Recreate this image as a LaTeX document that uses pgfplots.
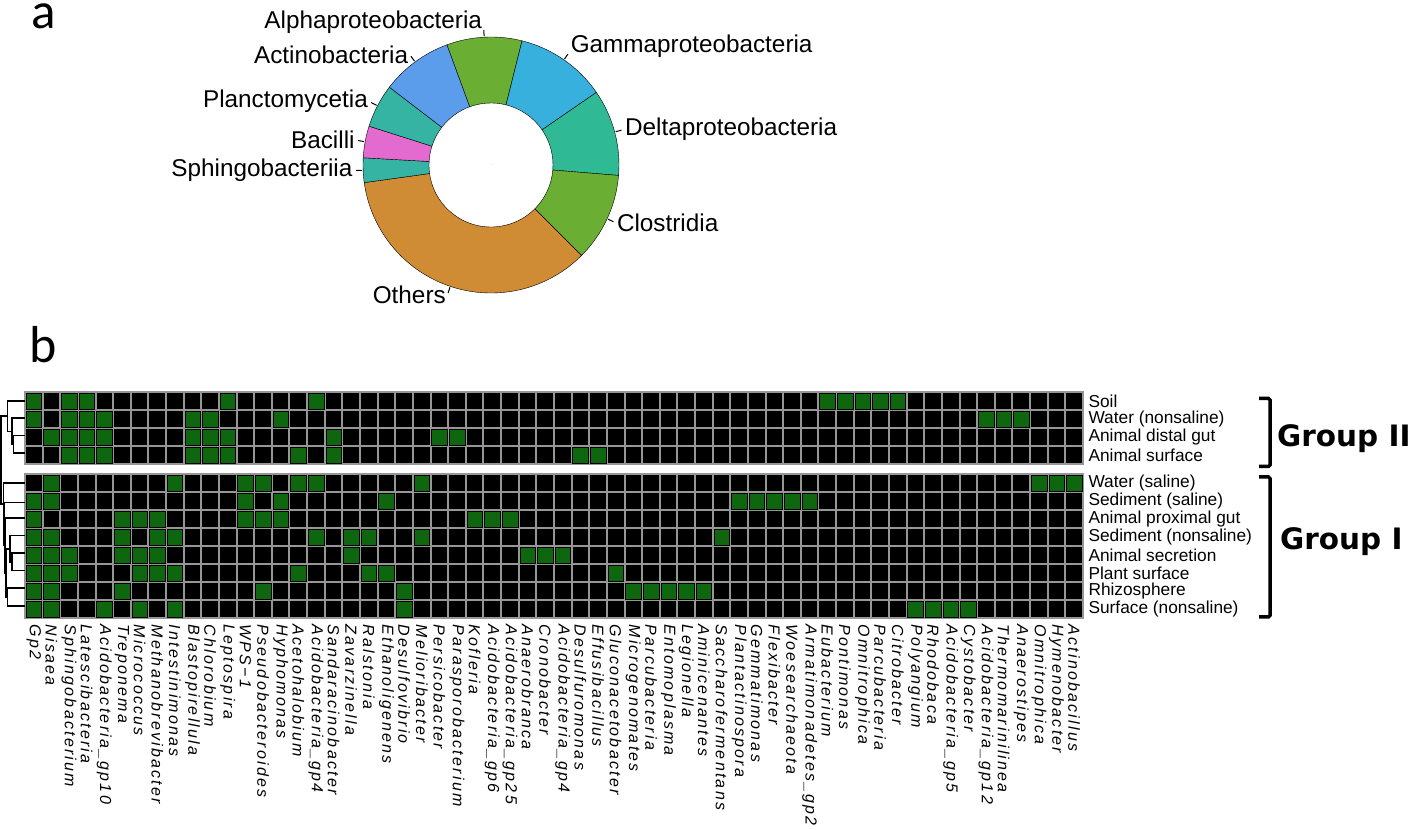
\documentclass[border=0pt]{standalone}
\usepackage{pgfplots}
\pgfplotsset{compat=1.18}
\usepackage{pgfplotstable}
\usepackage{fontspec}
\setmainfont{Liberation Sans}
\newfontfamily\carlito{Carlito}
\newfontfamily\groupfont{DejaVu Sans}
\newfontfamily\collabfont[LetterSpace=14]{Liberation Sans}
\definecolor{cellgreen}{RGB}{14,102,14}
\definecolor{gridgray}{RGB}{150,150,150}
\definecolor{cAlpha}{RGB}{107,174,52}
\definecolor{cGamma}{RGB}{56,176,222}
\definecolor{cDelta}{RGB}{47,186,149}
\definecolor{cClos}{RGB}{107,174,52}
\definecolor{cOthers}{RGB}{208,139,53}
\definecolor{cSphingo}{RGB}{53,180,164}
\definecolor{cBacilli}{RGB}{227,107,207}
\definecolor{cPlancto}{RGB}{53,180,164}
\definecolor{cActino}{RGB}{91,156,235}

% donut: start (percent, clockwise from top) and share (percent)
\pgfplotstableread[col sep=comma]{
idx,start,share,col,label,anc
0,-5.6,9.5,cAlpha,Alphaproteobacteria,base east
1,3.9,11.5,cGamma,Gammaproteobacteria,base west
2,15.4,10.9,cDelta,Deltaproteobacteria,west
3,26.3,11.2,cClos,Clostridia,west
4,37.5,35.3,cOthers,Others,east
5,72.8,3.1,cSphingo,Sphingobacteriia,east
6,75.9,4.0,cBacilli,Bacilli,east
7,79.9,5.5,cPlancto,Planctomycetia,east
8,85.4,9.0,cActino,Actinobacteria,east
}\donutdata

% Group II: row 0 Soil, 1 Water (nonsaline), 2 Animal distal gut, 3 Animal surface
\pgfplotstableread{
col row
0 0
2 0
3 0
11 0
16 0
45 0
46 0
47 0
48 0
49 0
0 1
2 1
3 1
4 1
9 1
10 1
14 1
54 1
55 1
56 1
1 2
2 2
3 2
4 2
9 2
10 2
11 2
17 2
23 2
24 2
2 3
3 3
4 3
9 3
10 3
11 3
15 3
17 3
31 3
32 3
}\groupIIcells

% Group I: rows 0..7
\pgfplotstableread{
col row
1 0
8 0
12 0
13 0
15 0
16 0
22 0
57 0
58 0
59 0
0 1
1 1
12 1
14 1
20 1
40 1
41 1
42 1
43 1
44 1
0 2
5 2
6 2
7 2
12 2
13 2
14 2
25 2
26 2
27 2
0 3
1 3
5 3
7 3
8 3
16 3
18 3
19 3
22 3
39 3
0 4
1 4
2 4
5 4
6 4
7 4
18 4
28 4
29 4
30 4
0 5
1 5
2 5
6 5
7 5
8 5
15 5
19 5
20 5
33 5
0 6
1 6
5 6
13 6
21 6
34 6
35 6
36 6
37 6
38 6
0 7
1 7
4 7
6 7
8 7
21 7
50 7
51 7
52 7
53 7
}\groupIcells

\pgfplotsset{heat/.style={
  scale only axis, width=1058pt,
  xmin=-0.5, xmax=59.5, ymin=-0.5, y dir=reverse,
  axis background/.style={fill=black},
  xtick={0,1,...,59},
  minor xtick={-0.5,0.5,...,59.5},
  xminorgrids=true, yminorgrids=true,
  minor grid style={draw=gridgray, line width=2pt},
  axis line style={draw=gridgray, line width=2pt},
  major tick length=0pt, minor tick length=0pt,
  yticklabel pos=right,
  yticklabel style={font=\fontsize{17.3}{19}\selectfont, anchor=west},
  yticklabel shift=2pt,
}}

\def\Ro{128pt}
\def\Ri{62pt}

\begin{document}
\begin{tikzpicture}
\path[use as bounding box] (0pt,0pt) rectangle (1414pt,830pt);

\node[anchor=base west, inner sep=0pt, font=\carlito\fontsize{51}{56}\selectfont] at (31pt,801pt) {a};
\node[anchor=base west, inner sep=0pt, font=\carlito\fontsize{52}{58}\selectfont] at (29pt,467pt) {b};

% ---- donut ----
\begin{axis}[at={(491pt,665pt)}, anchor=center, scale only axis, width=256pt, height=256pt,
  xmin=-1, xmax=1, ymin=-1, ymax=1, hide axis, clip=false]
\addplot[scatter, only marks, mark=*, mark size=0pt, mark options={draw=none, fill=none},
  point meta=\thisrow{share},
  visualization depends on={90-3.6*\thisrow{start} \as \angA},
  visualization depends on={90-3.6*(\thisrow{start}+\thisrow{share}) \as \angB},
  visualization depends on={90-3.6*(\thisrow{start}+0.5*\thisrow{share}) \as \angM},
  visualization depends on={\thisrow{idx} \as \sliceidx},
  scatter/@pre marker code/.code={%
    \pgfmathtruncatemacro\ii{\sliceidx}%
    \pgfplotstablegetelem{\ii}{col}\of\donutdata
    \let\slicecol\pgfplotsretval
    \pgfplotstablegetelem{\ii}{label}\of\donutdata
    \let\slicelabel\pgfplotsretval
    \pgfplotstablegetelem{\ii}{anc}\of\donutdata
    \let\sliceanchor\pgfplotsretval
    \fill[fill=\slicecol] (\angA:\Ro) arc[start angle=\angA, end angle=\angB, radius=\Ro]
      -- (\angB:\Ri) arc[start angle=\angB, end angle=\angA, radius=\Ri] -- cycle;
    \draw[line width=1pt, black] (\angM:\Ro+1pt) -- (\angM:\Ro+7pt);
    \node[anchor=\sliceanchor, inner sep=1.5pt, font=\fontsize{24.3}{27}\selectfont] at (\angM:\Ro+9pt) {\slicelabel};
  },
  scatter/@post marker code/.code={},
] table[x expr=0, y expr=0] {\donutdata};
\end{axis}

% ---- heatmap Group II ----
\begin{axis}[heat, at={(25pt,438pt)}, anchor=north west, height=72pt, ymax=3.5,
  xticklabels={},
  minor ytick={-0.5,0.5,...,3.5},
  ytick={0,1,2,3},
  yticklabels={Soil,Water (nonsaline),Animal distal gut,Animal surface}]
\addplot[only marks, mark=square*, mark size=7.8pt, mark options={draw=none, fill=cellgreen}]
  table[x=col, y=row] {\groupIIcells};
\end{axis}

% ---- heatmap Group I ----
\begin{axis}[heat, at={(25pt,356pt)}, anchor=north west, height=144pt, ymax=7.5,
  minor ytick={-0.5,0.5,...,7.5},
  ytick={0,1,...,7},
  yticklabels={Water (saline),Sediment (saline),Animal proximal gut,Sediment (nonsaline),Animal secretion,Plant surface,Rhizosphere,Surface (nonsaline)},
  xticklabel shift=3pt,
  xticklabel style={rotate=-90, anchor=west, font=\collabfont\itshape\fontsize{16}{18}\selectfont},
  xticklabels={Gp2,Nisaea,Sphingobacterium,Latescibacteria,Acidobacteria\_gp10,Treponema,Micrococcus,Methanobrevibacter,Intestinimonas,Blastopirellula,Chlorobium,Leptospira,WPS−1,Pseudobacteroides,Hyphomonas,Acetohalobium,Acidobacteria\_gp4,Sandaracinobacter,Zavarzinella,Ralstonia,Ethanoligenens,Desulfovibrio,Melioribacter,Persicobacter,Parasporobacterium,Kofleria,Acidobacteria\_gp6,Acidobacteria\_gp25,Anaerobranca,Cronobacter,Acidobacteria\_gp4,Desulfuromonas,Effusibacillus,Gluconacetobacter,Microgenomates,Parcubacteria,Entomoplasma,Legionella,Aminicenantes,Saccharofermentans,Plantactinospora,Gemmatimonas,Flexibacter,Woesearchaeota,Armatimonadetes\_gp2,Eubacterium,Pontimonas,Omnitrophica,Parcubacteria,Citrobacter,Polyangium,Rhodobaca,Acidobacteria\_gp5,Cystobacter,Acidobacteria\_gp12,Thermomarinilinea,Anaerostipes,Omnitrophica,Hymenobacter,Actinobacillus}]
\addplot[only marks, mark=square*, mark size=7.8pt, mark options={draw=none, fill=cellgreen}]
  table[x=col, y=row] {\groupIcells};
\end{axis}

% ---- dendrogram ----
\begin{axis}[at={(0pt,205pt)}, anchor=south west, scale only axis, width=25pt, height=240pt,
  xmin=0, xmax=25, ymin=385, ymax=625, y dir=reverse, hide axis, clip=false]
\addplot[black, line width=1.6pt, mark=none, unbounded coords=jump, line join=miter] coordinates {
(25,435.7) (13.3,435.7) (13.3,453.3) (25,453.3) (0,nan)
(25,418.3) (11.7,418.3) (11.7,444.5) (13.3,444.5) (0,nan)
(25,401) (7.3,401) (7.3,431.4) (11.7,431.4) (0,nan)
(25,553.3) (11.7,553.3) (11.7,570.7) (25,570.7) (0,nan)
(25,535.7) (10,535.7) (10,562) (11.7,562) (0,nan)
(25,588.3) (7.3,588.3) (7.3,606) (25,606) (0,nan)
(10,548.85) (6,548.85) (6,597.15) (7.3,597.15) (0,nan)
(25,518.3) (5,518.3) (5,573) (6,573) (0,nan)
(25,502.7) (4,502.7) (4,545.65) (5,545.65) (0,nan)
(25,483.3) (3.3,483.3) (3.3,524.2) (4,524.2) (0,nan)
(7.3,416.2) (1,416.2) (1,503.75) (3.3,503.75)
};
\end{axis}

% ---- brackets and group labels ----
\draw[line width=3.5pt, rounded corners=1.5pt] (1259pt,431.5pt) -- (1270pt,431.5pt) -- (1270pt,363.5pt) -- (1259pt,363.5pt);
\draw[line width=3.5pt, rounded corners=1.5pt] (1259pt,353pt) -- (1270pt,353pt) -- (1270pt,213pt) -- (1259pt,213pt);
\node[anchor=base west, inner sep=0pt, font=\groupfont\bfseries\fontsize{29.5}{34}\selectfont] at (1277pt,383pt) {Group II};
\node[anchor=base west, inner sep=0pt, font=\groupfont\bfseries\fontsize{29.5}{34}\selectfont] at (1280pt,280pt) {Group I};
\end{tikzpicture}
\end{document}
